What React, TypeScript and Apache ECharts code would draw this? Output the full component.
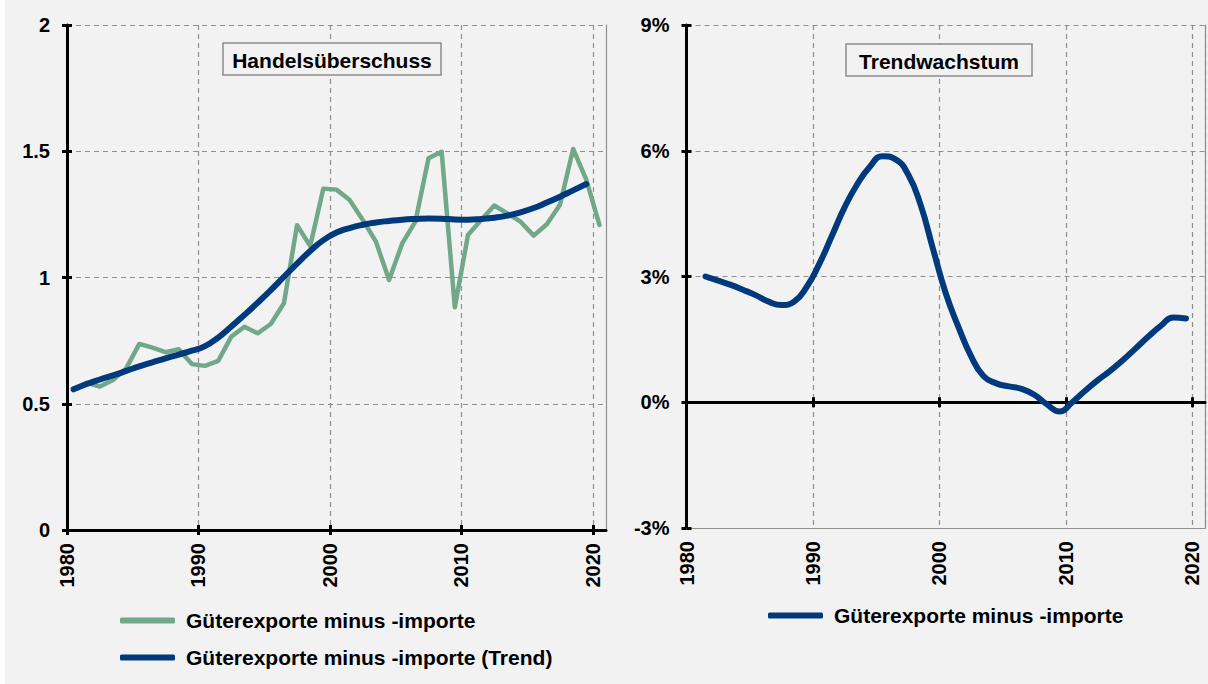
import React, { useEffect, useRef } from "react";
import * as echarts from "echarts";

const years = [1980,1981,1982,1983,1984,1985,1986,1987,1988,1989,1990,1991,1992,1993,1994,1995,1996,1997,1998,1999,2000,2001,2002,2003,2004,2005,2006,2007,2008,2009,2010,2011,2012,2013,2014,2015,2016,2017,2018,2019,2020];
const surplus = [0.557,0.583,0.568,0.594,0.640,0.737,0.722,0.704,0.716,0.657,0.650,0.670,0.766,0.805,0.779,0.816,0.898,1.207,1.125,1.352,1.348,1.307,1.228,1.142,0.990,1.135,1.221,1.472,1.498,0.882,1.168,1.228,1.285,1.254,1.221,1.166,1.211,1.288,1.509,1.388,1.208];
const trendYears = years.slice(0, 40);
const surplusTrend = [0.557,0.578,0.596,0.612,0.630,0.648,0.664,0.680,0.695,0.710,0.728,0.762,0.806,0.852,0.900,0.950,1.003,1.055,1.105,1.148,1.178,1.196,1.209,1.218,1.224,1.229,1.232,1.234,1.233,1.230,1.229,1.232,1.237,1.245,1.258,1.275,1.297,1.320,1.345,1.370];
const growthYears = years.slice(1, 40);
const trendGrowth = [3.00,2.90,2.80,2.68,2.55,2.40,2.32,2.40,2.75,3.30,3.97,4.65,5.20,5.62,5.87,5.80,5.45,4.72,3.65,2.60,1.80,1.10,0.62,0.45,0.38,0.32,0.18,-0.05,-0.22,0.00,0.27,0.52,0.75,1.00,1.28,1.56,1.82,2.02,2.00];
const decadeTicks = [1980, 1990, 2000, 2010, 2020];

const nameSurplus = "Güterexporte minus -importe";
const nameTrend = "Güterexporte minus -importe (Trend)";
const titleLeft = "Handelsüberschuss";
const titleRight = "Trendwachstum";

const FONT = '"Liberation Sans", Arial, Helvetica, sans-serif';
const GREEN = "#70a889";
const BLUE = "#003a7d";
const GRIDC = "#8f8f8f";

const toPoints = (xs: number[], ys: number[]) => xs.map((x, i) => [x + 0.5, ys[i]]);

function xAxes(zeroLine: boolean) {
  const base = {
    type: "value",
    min: 1980,
    max: 2021,
    interval: 10,
    position: "bottom",
  };
  const labelAxis: any = {
    ...base,
    axisLine: zeroLine
      ? { show: true, onZero: false, lineStyle: { color: GRIDC, width: 1.2 } }
      : { show: true, onZero: false, lineStyle: { color: "#000", width: 3 } },
    axisTick: zeroLine
      ? { show: false }
      : { show: true, inside: false, length: 5, customValues: decadeTicks, lineStyle: { color: "#000", width: 3 } },
    axisLabel: {
      show: true,
      rotate: 90,
      margin: 13,
      customValues: decadeTicks,
      formatter: (v: number) => String(v),
      color: "#000",
      fontFamily: FONT,
      fontWeight: "bold",
      fontSize: 20,
    },
    splitLine: { show: true, lineStyle: { color: GRIDC, type: [5, 4], width: 1.2 } },
  };
  const innerTicks: any = {
    ...base,
    axisLine: { show: false, onZero: false },
    axisTick: { show: true, inside: true, length: 5, customValues: decadeTicks, lineStyle: { color: "#000", width: 3 } },
    axisLabel: { show: false },
    splitLine: { show: false },
  };
  if (!zeroLine) return [labelAxis, innerTicks];
  const zeroOut: any = {
    ...base,
    axisLine: { show: true, onZero: true, onZeroAxisIndex: 0, lineStyle: { color: "#000", width: 3 } },
    axisTick: { show: true, inside: false, length: 5, customValues: decadeTicks, lineStyle: { color: "#000", width: 3 } },
    axisLabel: { show: false },
    splitLine: { show: false },
  };
  const zeroIn: any = {
    ...base,
    axisLine: { show: false, onZero: true, onZeroAxisIndex: 0 },
    axisTick: { show: true, inside: true, length: 5, customValues: decadeTicks, lineStyle: { color: "#000", width: 3 } },
    axisLabel: { show: false },
    splitLine: { show: false },
  };
  return [labelAxis, zeroOut, zeroIn];
}

function yAxes(min: number, max: number, interval: number, fmt: (v: number) => string) {
  const base = { type: "value", min, max, interval };
  return [
    {
      ...base,
      position: "left",
      axisLine: { show: true, onZero: false, lineStyle: { color: "#000", width: 3 } },
      axisTick: { show: true, inside: false, length: 5, lineStyle: { color: "#000", width: 3 } },
      axisLabel: {
        show: true,
        margin: 17,
        formatter: fmt,
        color: "#000",
        fontFamily: FONT,
        fontWeight: "bold",
        fontSize: 20,
      },
      splitLine: { show: true, lineStyle: { color: GRIDC, type: [5, 4], width: 1.2 } },
    },
    {
      ...base,
      position: "left",
      axisLine: { show: false, onZero: false },
      axisTick: { show: true, inside: true, length: 5, lineStyle: { color: "#000", width: 3 } },
      axisLabel: { show: false },
      splitLine: { show: false },
    },
    {
      ...base,
      position: "right",
      axisLine: { show: true, onZero: false, lineStyle: { color: GRIDC, width: 1.2 } },
      axisTick: { show: false },
      axisLabel: { show: false },
      splitLine: { show: false },
    },
  ];
}

function titleBox(x: number, y: number, w: number, h: number, text: string) {
  return {
    type: "group",
    z: 100,
    children: [
      {
        type: "rect",
        z: 100,
        shape: { x, y, width: w, height: h },
        style: { fill: "#f2f2f2", stroke: "#8c8c8c", lineWidth: 1.5 },
      },
      {
        type: "text",
        z: 101,
        style: {
          text,
          x: x + w / 2,
          y: y + h / 2 + 1,
          align: "center",
          verticalAlign: "middle",
          font: `bold 21px ${FONT}`,
          fill: "#000",
        },
      },
    ],
  };
}

const legendText = {
  color: "#000",
  fontFamily: FONT,
  fontWeight: "bold",
  fontSize: 21,
  padding: [0, 0, 0, 6],
};

function leftOption(): any {
  return {
    animation: false,
    backgroundColor: "transparent",
    grid: { left: 67, top: 25, width: 539, height: 505, containLabel: false },
    xAxis: xAxes(false),
    yAxis: yAxes(0, 2, 0.5, (v: number) => String(v)),
    legend: {
      left: 120,
      top: 610,
      orient: "vertical",
      padding: 0,
      itemGap: 16,
      itemWidth: 55,
      itemHeight: 6,
      icon: "roundRect",
      selectedMode: false,
      textStyle: legendText,
      data: [nameSurplus, nameTrend],
    },
    graphic: [titleBox(223, 43, 218, 32, titleLeft)],
    series: [
      {
        name: nameSurplus,
        type: "line",
        xAxisIndex: 0,
        yAxisIndex: 0,
        symbol: "none",
        smooth: false,
        data: toPoints(years, surplus),
        itemStyle: { color: GREEN },
        lineStyle: { color: GREEN, width: 4.5, join: "round", cap: "round" },
        z: 3,
      },
      {
        name: nameTrend,
        type: "line",
        xAxisIndex: 0,
        yAxisIndex: 0,
        symbol: "none",
        smooth: true,
        data: toPoints(trendYears, surplusTrend),
        itemStyle: { color: BLUE },
        lineStyle: { color: BLUE, width: 6, join: "round", cap: "round" },
        z: 4,
      },
    ],
  };
}

function rightOption(): any {
  return {
    animation: false,
    backgroundColor: "transparent",
    grid: { left: 76.5, top: 25, width: 518.5, height: 503, containLabel: false },
    xAxis: xAxes(true),
    yAxis: yAxes(-3, 9, 3, (v: number) => `${v}%`),
    legend: {
      left: 158,
      top: 605,
      orient: "vertical",
      padding: 0,
      itemWidth: 55,
      itemHeight: 6,
      icon: "roundRect",
      selectedMode: false,
      textStyle: legendText,
      data: [nameSurplus],
    },
    graphic: [titleBox(236, 44, 186, 32, titleRight)],
    series: [
      {
        name: nameSurplus,
        type: "line",
        xAxisIndex: 0,
        yAxisIndex: 0,
        symbol: "none",
        smooth: true,
        data: toPoints(growthYears, trendGrowth),
        itemStyle: { color: BLUE },
        lineStyle: { color: BLUE, width: 6, join: "round", cap: "round" },
        z: 4,
      },
    ],
  };
}

function Chart({ option, style }: { option: any; style: React.CSSProperties }) {
  const ref = useRef<HTMLDivElement>(null);
  useEffect(() => {
    if (!ref.current) return;
    const chart = echarts.init(ref.current, undefined, { renderer: "svg" });
    chart.setOption(option);
    return () => chart.dispose();
  }, [option]);
  return <div ref={ref} style={style} />;
}

const leftOpt = leftOption();
const rightOpt = rightOption();

export default function App() {
  useEffect(() => {
    document.body.style.margin = "0";
  }, []);
  return (
    <div style={{ position: "relative", width: 1208, height: 684, background: "#ffffff", overflow: "hidden" }}>
      <div style={{ position: "absolute", left: 5, top: 0, width: 1203, height: 684, background: "#f2f2f2" }} />
      <Chart option={leftOpt} style={{ position: "absolute", left: 0, top: 0, width: 610, height: 684 }} />
      <Chart option={rightOpt} style={{ position: "absolute", left: 610, top: 0, width: 598, height: 684 }} />
    </div>
  );
}
